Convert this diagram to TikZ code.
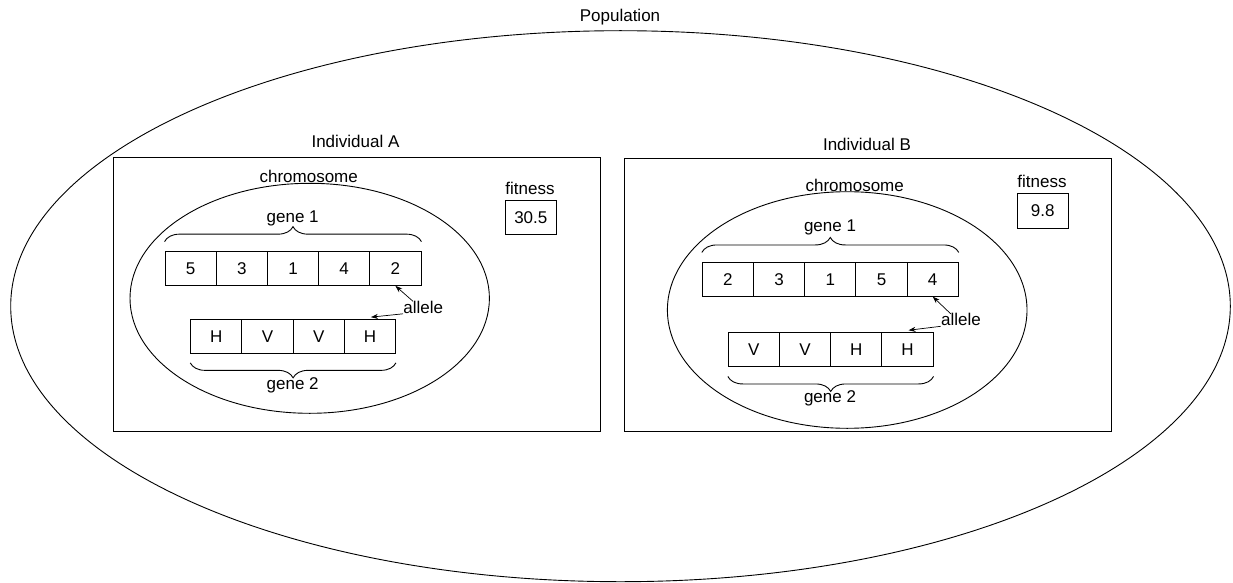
\documentclass[tikz,border=0pt]{standalone}
\usepackage{fontspec}
\setmainfont{Liberation Sans}
\usetikzlibrary{decorations.pathreplacing,arrows.meta,calc}
\begin{document}
\begin{tikzpicture}[x=1pt,y=-1pt,
  font=\fontsize{17}{20}\selectfont,
  line width=0.9pt,
  lbl/.style={inner sep=0pt},
  cell/.style={draw,minimum width=51.2pt,minimum height=33.8pt,inner sep=0pt},
  fitbox/.style={draw,minimum width=51pt,minimum height=34.5pt,inner sep=0pt},
  bracebelow/.style={decorate,decoration={brace,amplitude=15pt,mirror}},
  braceabove/.style={decorate,decoration={brace,amplitude=15pt}},
  pointer/.style={-{Stealth[length=7pt,width=5pt]},line width=0.7pt}]
\useasboundingbox (0,0) rectangle (1233,583);

% population
\draw (620.5,306.2) ellipse [x radius=609.8,y radius=275.5];
\node[lbl] (pop) at (620,17) {Population};

% ---------- individual A ----------
\node[draw,minimum width=487pt,minimum height=274pt,inner sep=0pt] (indA) at (356.5,294) {};
\node[lbl] (indAlbl) at (355.5,141) {Individual A};
\draw (309.7,298.3) ellipse [x radius=179.7,y radius=115];
\node[lbl] (chrA) at (308.7,176) {chromosome};

\foreach \v [count=\i] in {5,3,1,4,2}
  \node[cell] (Aa\i) at ({165+25.6+51.2*(\i-1)},268.5) {\v};
\foreach \v [count=\i] in {H,V,V,H}
  \node[cell] (Ab\i) at ({190.7+25.6+51.2*(\i-1)},336.5) {\v};

\draw[braceabove] ($(Aa1.north west)+(0,-9.5)$) coordinate (Ag1s) -- ($(Aa5.north east)+(0,-9.5)$) coordinate (Ag1e);
\node[lbl] (Ag1) at (292.7,218) {gene 1};
\draw[bracebelow] ($(Ab1.south west)+(0,9)$) coordinate (Ag2s) -- ($(Ab4.south east)+(0,9)$) coordinate (Ag2e);
\node[lbl] (Ag2) at (292.7,385) {gene 2};

\node[lbl] (fitA) at (530,188.5) {fitness};
\node[fitbox] (fitAv) at (530.8,217.3) {30.5};

\node[lbl] (allA) at (423.3,307) {allele};
\draw[pointer] ($(allA.north west)+(10,1)$) -- (Aa5.south);
\draw[pointer] ($(allA.north west)+(0,13.5)$) -- ($(Ab4.north)+(1,-2)$);

% ---------- individual B ----------
\node[draw,minimum width=487pt,minimum height=273pt,inner sep=0pt] (indB) at (867.5,294.5) {};
\node[lbl] (indBlbl) at (867,144) {Individual B};
\draw (847.2,310) ellipse [x radius=179.8,y radius=118.3];
\node[lbl] (chrB) at (854.7,185) {chromosome};

\foreach \v [count=\i] in {2,3,1,5,4}
  \node[cell] (Ba\i) at ({702.3+25.6+51.2*(\i-1)},279.3) {\v};
\foreach \v [count=\i] in {V,V,H,H}
  \node[cell] (Bb\i) at ({728.3+25.6+51.2*(\i-1)},349.6) {\v};

\draw[braceabove] ($(Ba1.north west)+(0,-9.5)$) coordinate (Bg1s) -- ($(Ba5.north east)+(0,-9.5)$) coordinate (Bg1e);
\node[lbl] (Bg1) at (830,227.5) {gene 1};
\draw[bracebelow] ($(Bb1.south west)+(0,9.5)$) coordinate (Bg2s) -- ($(Bb4.south east)+(0,9.5)$) coordinate (Bg2e);
\node[lbl] (Bg2) at (830,398) {gene 2};

\node[lbl] (fitB) at (1042,181.5) {fitness};
\node[fitbox] (fitBv) at (1042.8,211) {9.8};

\node[lbl] (allB) at (961,319.5) {allele};
\draw[pointer] ($(allB.north west)+(10,1)$) -- (Ba5.south);
\draw[pointer] ($(allB.north west)+(0,13.5)$) -- ($(Bb4.north)+(1,-2)$);
\end{tikzpicture}
\end{document}
